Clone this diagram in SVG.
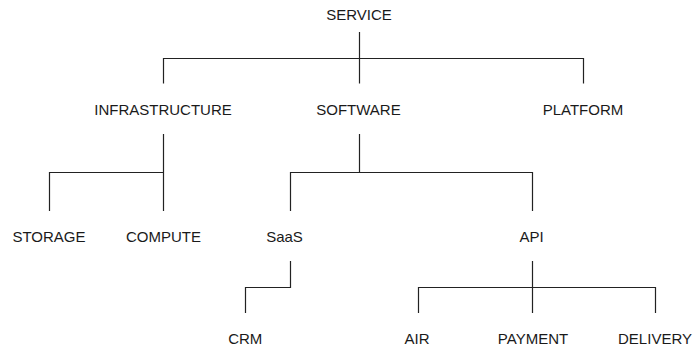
<svg xmlns="http://www.w3.org/2000/svg" width="693" height="348" viewBox="0 0 693 348">
<style>
text{font-family:"Liberation Sans",Arial,sans-serif;font-size:15px;fill:#1a1a1a;text-anchor:middle}
.c{fill:none;stroke:#222;stroke-width:1.2}
</style>
<rect width="693" height="348" fill="#fff"/>
<g id="connectors">
<path class="c" d="M359.5 32V83.5M163.5 83.5V58.5H583.5V83.5"/>
<path class="c" d="M163.5 134V172.5M49.5 211V172.5H163.5V211"/>
<path class="c" d="M359.5 134V172.5M290.5 211V172.5H532.5V211"/>
<path class="c" d="M290.5 261V287.5H245.5V313"/>
<path class="c" d="M532.5 261V313M418.5 313V287.5H655.5V313"/>
</g>
<g id="service"><text x="359" y="20">SERVICE</text></g>
<g id="infrastructure"><text x="163" y="115">INFRASTRUCTURE</text></g>
<g id="software"><text x="358.5" y="115">SOFTWARE</text></g>
<g id="platform"><text x="583" y="115">PLATFORM</text></g>
<g id="storage"><text x="49" y="242">STORAGE</text></g>
<g id="compute"><text x="163.5" y="242">COMPUTE</text></g>
<g id="saas"><text x="284.5" y="242">SaaS</text></g>
<g id="api"><text x="531.5" y="242">API</text></g>
<g id="crm"><text x="245.3" y="344">CRM</text></g>
<g id="air"><text x="417" y="344">AIR</text></g>
<g id="payment"><text x="533" y="344">PAYMENT</text></g>
<g id="delivery"><text x="655" y="344">DELIVERY</text></g>
</svg>
